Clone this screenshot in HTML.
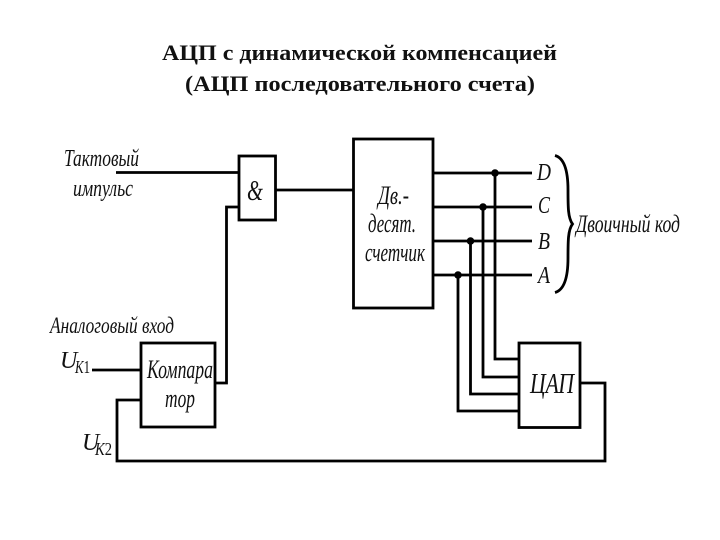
<!DOCTYPE html>
<html><head><meta charset="utf-8">
<style>
html,body{margin:0;padding:0;background:#fff;width:720px;height:540px;overflow:hidden}
svg{display:block}
text{font-family:"Liberation Serif",serif;fill:#111}
.i{font-style:italic}
.t{font-weight:bold;font-size:22px}
</style></head><body>
<svg width="720" height="540" viewBox="0 0 720 540" xmlns="http://www.w3.org/2000/svg">
<text class="t" x="162" y="60" textLength="395" lengthAdjust="spacingAndGlyphs">АЦП с динамической компенсацией</text>
<text class="t" x="185" y="91" textLength="350" lengthAdjust="spacingAndGlyphs">(АЦП последовательного счета)</text>

<g fill="none" stroke="#000" stroke-width="2.800">
<rect x="239" y="156" width="36.500" height="64"/>
<rect x="353.500" y="139" width="79.500" height="169"/>
<rect x="141" y="343" width="74" height="84"/>
<rect x="519" y="343" width="61" height="84.500"/>
<path d="M116 172.500H239"/>
<path d="M276 190H353"/>
<path d="M239 207H226.500V383H215"/>
<path d="M92 370H141"/>
<path d="M141 400H117V461H605V383H580"/>
<path d="M433 173H532M433 207H532M433 241H532M433 275H532"/>
<path d="M495 173V359H519M483 207V377H519M470.500 241V394H519M458 275V411H519"/>
<path d="M555 155.500C564 158 568 170 568 190C568 207 568 218 572.500 224C568 230 568 241 568 258C568 278 564 290 555 292.500" stroke-width="2.800"/>
</g>
<circle cx="495" cy="173" r="3.800"/>
<circle cx="483" cy="207" r="3.800"/>
<circle cx="470.500" cy="241" r="3.800"/>
<circle cx="458" cy="275" r="3.800"/>

<g class="i">
<text x="64" y="166" font-size="24" textLength="75" lengthAdjust="spacingAndGlyphs">Тактовый</text>
<text x="73" y="196" font-size="24" textLength="60" lengthAdjust="spacingAndGlyphs">импульс</text>
<text x="247" y="200" font-size="29" textLength="16" lengthAdjust="spacingAndGlyphs">&amp;</text>
<text x="50" y="333" font-size="23" textLength="124" lengthAdjust="spacingAndGlyphs">Аналоговый вход</text>
<text x="60" y="368" font-size="24">U</text>
<text x="75" y="373" font-size="18" textLength="15" lengthAdjust="spacingAndGlyphs">K<tspan font-style="normal">1</tspan></text>
<text x="82" y="450" font-size="24">U</text>
<text x="95" y="455" font-size="18" textLength="17" lengthAdjust="spacingAndGlyphs">K<tspan font-style="normal">2</tspan></text>
<text x="147" y="378" font-size="26" textLength="66" lengthAdjust="spacingAndGlyphs">Компара</text>
<text x="165" y="407" font-size="26" textLength="30" lengthAdjust="spacingAndGlyphs">тор</text>
<text x="378" y="204" font-size="26" textLength="31" lengthAdjust="spacingAndGlyphs">Дв.-</text>
<text x="368" y="232" font-size="26" textLength="48" lengthAdjust="spacingAndGlyphs">десят.</text>
<text x="365" y="261" font-size="26" textLength="60" lengthAdjust="spacingAndGlyphs">счетчик</text>
<text x="537" y="180" font-size="24" textLength="14" lengthAdjust="spacingAndGlyphs">D</text>
<text x="538" y="213" font-size="24" textLength="12" lengthAdjust="spacingAndGlyphs">C</text>
<text x="538" y="249" font-size="24" textLength="12" lengthAdjust="spacingAndGlyphs">B</text>
<text x="538" y="283" font-size="24" textLength="12" lengthAdjust="spacingAndGlyphs">A</text>
<text x="576" y="232" font-size="25" textLength="104" lengthAdjust="spacingAndGlyphs">Двоичный код</text>
<text x="530" y="393" font-size="28" textLength="44" lengthAdjust="spacingAndGlyphs">ЦАП</text>
</g>
</svg>
</body></html>
